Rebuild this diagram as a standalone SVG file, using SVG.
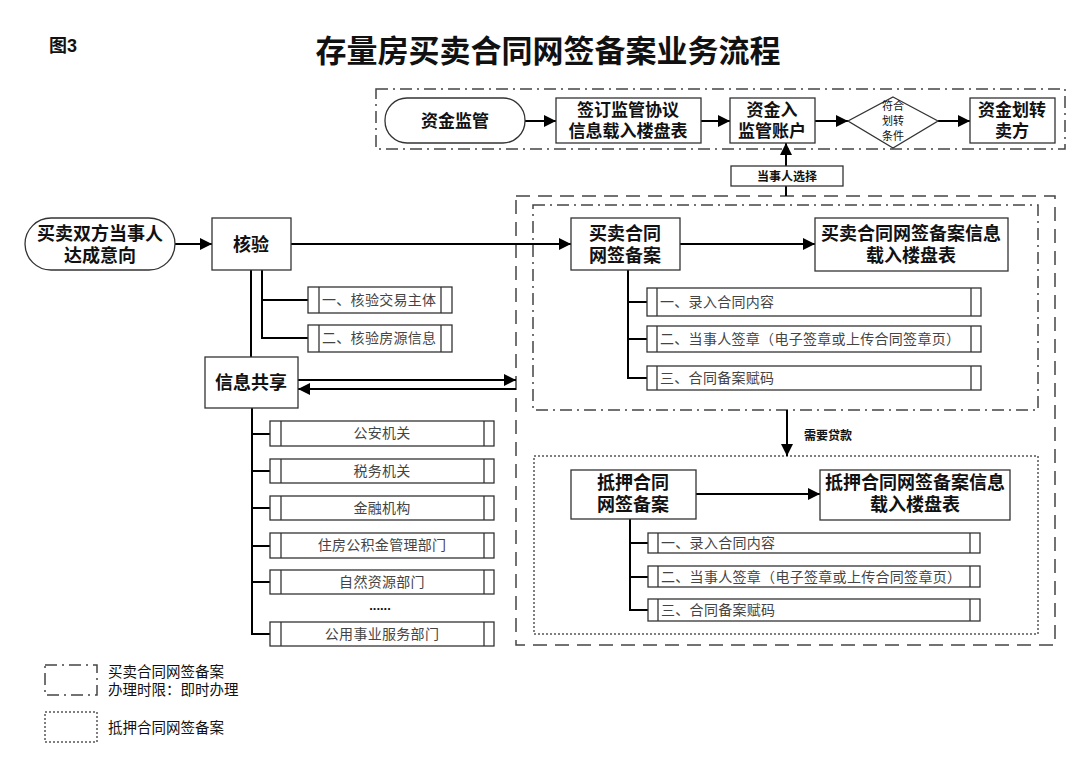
<svg xmlns="http://www.w3.org/2000/svg" width="1080" height="760" viewBox="0 0 1080 760">
<style>
.t{font-family:"Liberation Sans","Noto Sans CJK SC",sans-serif;fill:#111;text-anchor:middle}
.n{font-size:17px;font-weight:bold}
.s{font-family:"Noto Sans CJK SC",sans-serif;font-size:14px;letter-spacing:0.3px;fill:#444}
.box{fill:#fff;stroke:#333;stroke-width:1.3}
.ln{stroke:#000;stroke-width:2;fill:none}
.dd{fill:none;stroke:#444;stroke-width:1.5;stroke-dasharray:12 5 2 5}
.da{fill:none;stroke:#444;stroke-width:1.5;stroke-dasharray:14 8}
.dt{fill:none;stroke:#555;stroke-width:1.5;stroke-dasharray:2 2}
</style>
<defs>
<marker id="ah2" viewBox="0 0 10 10" refX="10" refY="5" markerWidth="14" markerHeight="12" orient="auto" markerUnits="userSpaceOnUse">
<path d="M0,0 L10,5 L0,10 z" fill="#000"/>
</marker>
</defs>
<rect width="1080" height="760" fill="#fff"/>
<text class="t" x="63" y="52" style="font-size:18px;font-weight:bold">图3</text>
<text class="t" x="548" y="62" style="font-size:31px;font-weight:bold">存量房买卖合同网签备案业务流程</text>

<!-- containers -->
<rect class="dd" x="376" y="89" width="689" height="60"/>
<rect class="da" x="516" y="196" width="539" height="449"/>
<rect class="dd" x="533" y="205" width="505" height="205"/>
<rect class="dt" x="534" y="456" width="504" height="178"/>

<!-- connectors -->
<g id="connectors">
<line class="ln" x1="525" y1="121" x2="556" y2="121" marker-end="url(#ah2)"/>
<line class="ln" x1="701" y1="121" x2="730" y2="121" marker-end="url(#ah2)"/>
<line class="ln" x1="815" y1="121" x2="848" y2="121" marker-end="url(#ah2)"/>
<line class="ln" x1="938" y1="121" x2="970" y2="121" marker-end="url(#ah2)"/>
<line class="ln" x1="786" y1="196" x2="786" y2="186"/>
<line class="ln" x1="786" y1="166" x2="786" y2="143" marker-end="url(#ah2)"/>
<line class="ln" x1="175" y1="244" x2="212" y2="244" marker-end="url(#ah2)"/>
<line class="ln" x1="291" y1="244" x2="571" y2="244" marker-end="url(#ah2)"/>
<line class="ln" x1="680" y1="244" x2="815" y2="244" marker-end="url(#ah2)"/>
<line class="ln" x1="696" y1="494" x2="820" y2="494" marker-end="url(#ah2)"/>
<line class="ln" x1="787" y1="410" x2="787" y2="456" marker-end="url(#ah2)"/>
<polyline class="ln" points="262,270 262,300 308,300"/>
<polyline class="ln" points="262,300 262,338 308,338"/>
<line class="ln" x1="251" y1="270" x2="251" y2="357"/>
<line class="ln" x1="298" y1="380" x2="516" y2="380" marker-end="url(#ah2)"/>
<line class="ln" x1="516" y1="389" x2="298" y2="389" marker-end="url(#ah2)"/>
<polyline class="ln" points="252,408 252,634 270,634"/>
<line class="ln" x1="252" y1="434" x2="270" y2="434"/>
<line class="ln" x1="252" y1="471" x2="270" y2="471"/>
<line class="ln" x1="252" y1="508" x2="270" y2="508"/>
<line class="ln" x1="252" y1="546" x2="270" y2="546"/>
<line class="ln" x1="252" y1="582" x2="270" y2="582"/>
<polyline class="ln" points="628,270 628,378 647,378"/>
<line class="ln" x1="628" y1="302" x2="647" y2="302"/>
<line class="ln" x1="628" y1="339" x2="647" y2="339"/>
<polyline class="ln" points="630,519 630,610 648,610"/>
<line class="ln" x1="630" y1="543" x2="648" y2="543"/>
<line class="ln" x1="630" y1="577" x2="648" y2="577"/>
</g>

<!-- top row -->
<g id="n-zjjg"><rect class="box" x="385" y="98" width="140" height="45" rx="22"/><text class="t n" x="455" y="127">资金监管</text></g>
<g id="n-qdjg"><rect class="box" x="556" y="98" width="145" height="45"/><text class="t n" x="628" y="116">签订监管协议</text><text class="t n" x="628" y="137">信息载入楼盘表</text></g>
<g id="n-zjr"><rect class="box" x="730" y="98" width="85" height="45"/><text class="t n" x="772" y="116">资金入</text><text class="t n" x="772" y="137">监管账户</text></g>
<g id="n-fh"><polygon class="box" points="893,97 938,121 893,148 848,121"/><text class="t" x="893" y="110" style="font-size:11px">符合</text><text class="t" x="893" y="125" style="font-size:11px">划转</text><text class="t" x="893" y="140" style="font-size:11px">条件</text></g>
<g id="n-zjhz"><rect class="box" x="970" y="98" width="85" height="45"/><text class="t n" x="1012" y="116">资金划转</text><text class="t n" x="1012" y="137">卖方</text></g>
<g id="n-dsrxz"><rect class="box" x="731" y="166" width="112" height="20"/><text class="t" x="787" y="181" style="font-size:12px;font-weight:bold">当事人选择</text></g>

<!-- left -->
<g id="n-start"><rect class="box" x="25" y="218" width="150" height="52" rx="26"/><text class="t n" x="100" y="240" style="font-size:18px">买卖双方当事人</text><text class="t n" x="100" y="262" style="font-size:18px">达成意向</text></g>
<g id="n-hy"><rect class="box" x="212" y="218" width="79" height="52"/><text class="t n" x="251" y="251" style="font-size:18px">核验</text></g>
<g id="n-hy1"><rect class="box" x="308" y="287" width="144" height="26"/><line class="box" x1="319" y1="287" x2="319" y2="313"/><line class="box" x1="441" y1="287" x2="441" y2="313"/><text class="s" x="322" y="305">一、核验交易主体</text></g>
<g id="n-hy2"><rect class="box" x="308" y="325" width="144" height="27"/><line class="box" x1="319" y1="325" x2="319" y2="352"/><line class="box" x1="441" y1="325" x2="441" y2="352"/><text class="s" x="322" y="343">二、核验房源信息</text></g>
<g id="n-xxgx"><rect class="box" x="205" y="357" width="93" height="51"/><text class="t n" x="251" y="389" style="font-size:18px">信息共享</text></g>

<g id="n-ga"><rect class="box" x="270" y="421" width="224" height="25"/><line class="box" x1="281" y1="421" x2="281" y2="446"/><line class="box" x1="484" y1="421" x2="484" y2="446"/><text class="s" x="382" y="438" text-anchor="middle">公安机关</text></g>
<g id="n-sw"><rect class="box" x="270" y="459" width="224" height="24"/><line class="box" x1="281" y1="459" x2="281" y2="483"/><line class="box" x1="484" y1="459" x2="484" y2="483"/><text class="s" x="382" y="476" text-anchor="middle">税务机关</text></g>
<g id="n-jr"><rect class="box" x="270" y="496" width="224" height="24"/><line class="box" x1="281" y1="496" x2="281" y2="520"/><line class="box" x1="484" y1="496" x2="484" y2="520"/><text class="s" x="382" y="513" text-anchor="middle">金融机构</text></g>
<g id="n-gjj"><rect class="box" x="270" y="533" width="224" height="25"/><line class="box" x1="281" y1="533" x2="281" y2="558"/><line class="box" x1="484" y1="533" x2="484" y2="558"/><text class="s" x="382" y="550" text-anchor="middle">住房公积金管理部门</text></g>
<g id="n-zr"><rect class="box" x="270" y="570" width="224" height="24"/><line class="box" x1="281" y1="570" x2="281" y2="594"/><line class="box" x1="484" y1="570" x2="484" y2="594"/><text class="s" x="382" y="587" text-anchor="middle">自然资源部门</text></g>
<text class="t" x="380" y="610" style="font-size:13px;font-weight:bold">......</text>
<g id="n-gy"><rect class="box" x="270" y="622" width="224" height="24"/><line class="box" x1="281" y1="622" x2="281" y2="646"/><line class="box" x1="484" y1="622" x2="484" y2="646"/><text class="s" x="382" y="639" text-anchor="middle">公用事业服务部门</text></g>

<!-- buy-sell contract -->
<g id="n-mmht"><rect class="box" x="571" y="218" width="109" height="52"/><text class="t n" x="625" y="240" style="font-size:18px">买卖合同</text><text class="t n" x="625" y="262" style="font-size:18px">网签备案</text></g>
<g id="n-mmxx"><rect class="box" x="815" y="218" width="193" height="53"/><text class="t n" x="911" y="240" style="font-size:18px">买卖合同网签备案信息</text><text class="t n" x="911" y="262" style="font-size:18px">载入楼盘表</text></g>
<g id="n-m1"><rect class="box" x="647" y="288" width="334" height="28"/><line class="box" x1="657" y1="288" x2="657" y2="316"/><line class="box" x1="971" y1="288" x2="971" y2="316"/><text class="s" x="660" y="307">一、录入合同内容</text></g>
<g id="n-m2"><rect class="box" x="647" y="326" width="334" height="26"/><line class="box" x1="657" y1="326" x2="657" y2="352"/><line class="box" x1="971" y1="326" x2="971" y2="352"/><text class="s" x="660" y="344">二、当事人签章（电子签章或上传合同签章页）</text></g>
<g id="n-m3"><rect class="box" x="647" y="366" width="334" height="24"/><line class="box" x1="657" y1="366" x2="657" y2="390"/><line class="box" x1="971" y1="366" x2="971" y2="390"/><text class="s" x="660" y="383">三、合同备案赋码</text></g>

<text class="t" x="828" y="440" style="font-size:12px;font-weight:bold">需要贷款</text>

<!-- mortgage contract -->
<g id="n-dyht"><rect class="box" x="571" y="470" width="125" height="49"/><text class="t n" x="633" y="489" style="font-size:18px">抵押合同</text><text class="t n" x="633" y="511" style="font-size:18px">网签备案</text></g>
<g id="n-dyxx"><rect class="box" x="820" y="470" width="190" height="50"/><text class="t n" x="915" y="489" style="font-size:18px">抵押合同网签备案信息</text><text class="t n" x="915" y="511" style="font-size:18px">载入楼盘表</text></g>
<g id="n-d1"><rect class="box" x="648" y="533" width="332" height="20"/><line class="box" x1="658" y1="533" x2="658" y2="553"/><line class="box" x1="970" y1="533" x2="970" y2="553"/><text class="s" x="661" y="548">一、录入合同内容</text></g>
<g id="n-d2"><rect class="box" x="648" y="566" width="332" height="21"/><line class="box" x1="658" y1="566" x2="658" y2="587"/><line class="box" x1="970" y1="566" x2="970" y2="587"/><text class="s" x="661" y="582">二、当事人签章（电子签章或上传合同签章页）</text></g>
<g id="n-d3"><rect class="box" x="648" y="599" width="332" height="22"/><line class="box" x1="658" y1="599" x2="658" y2="621"/><line class="box" x1="970" y1="599" x2="970" y2="621"/><text class="s" x="661" y="615">三、合同备案赋码</text></g>

<!-- legend -->
<g id="legend">
<rect class="dd" x="45" y="665" width="52" height="30"/>
<text class="t" x="108" y="677" style="font-size:14.5px;text-anchor:start">买卖合同网签备案</text>
<text class="t" x="108" y="695" style="font-size:14.5px;text-anchor:start">办理时限：即时办理</text>
<rect class="dt" x="45" y="712" width="52" height="30"/>
<text class="t" x="108" y="733" style="font-size:14.5px;text-anchor:start">抵押合同网签备案</text>
</g>
</svg>
